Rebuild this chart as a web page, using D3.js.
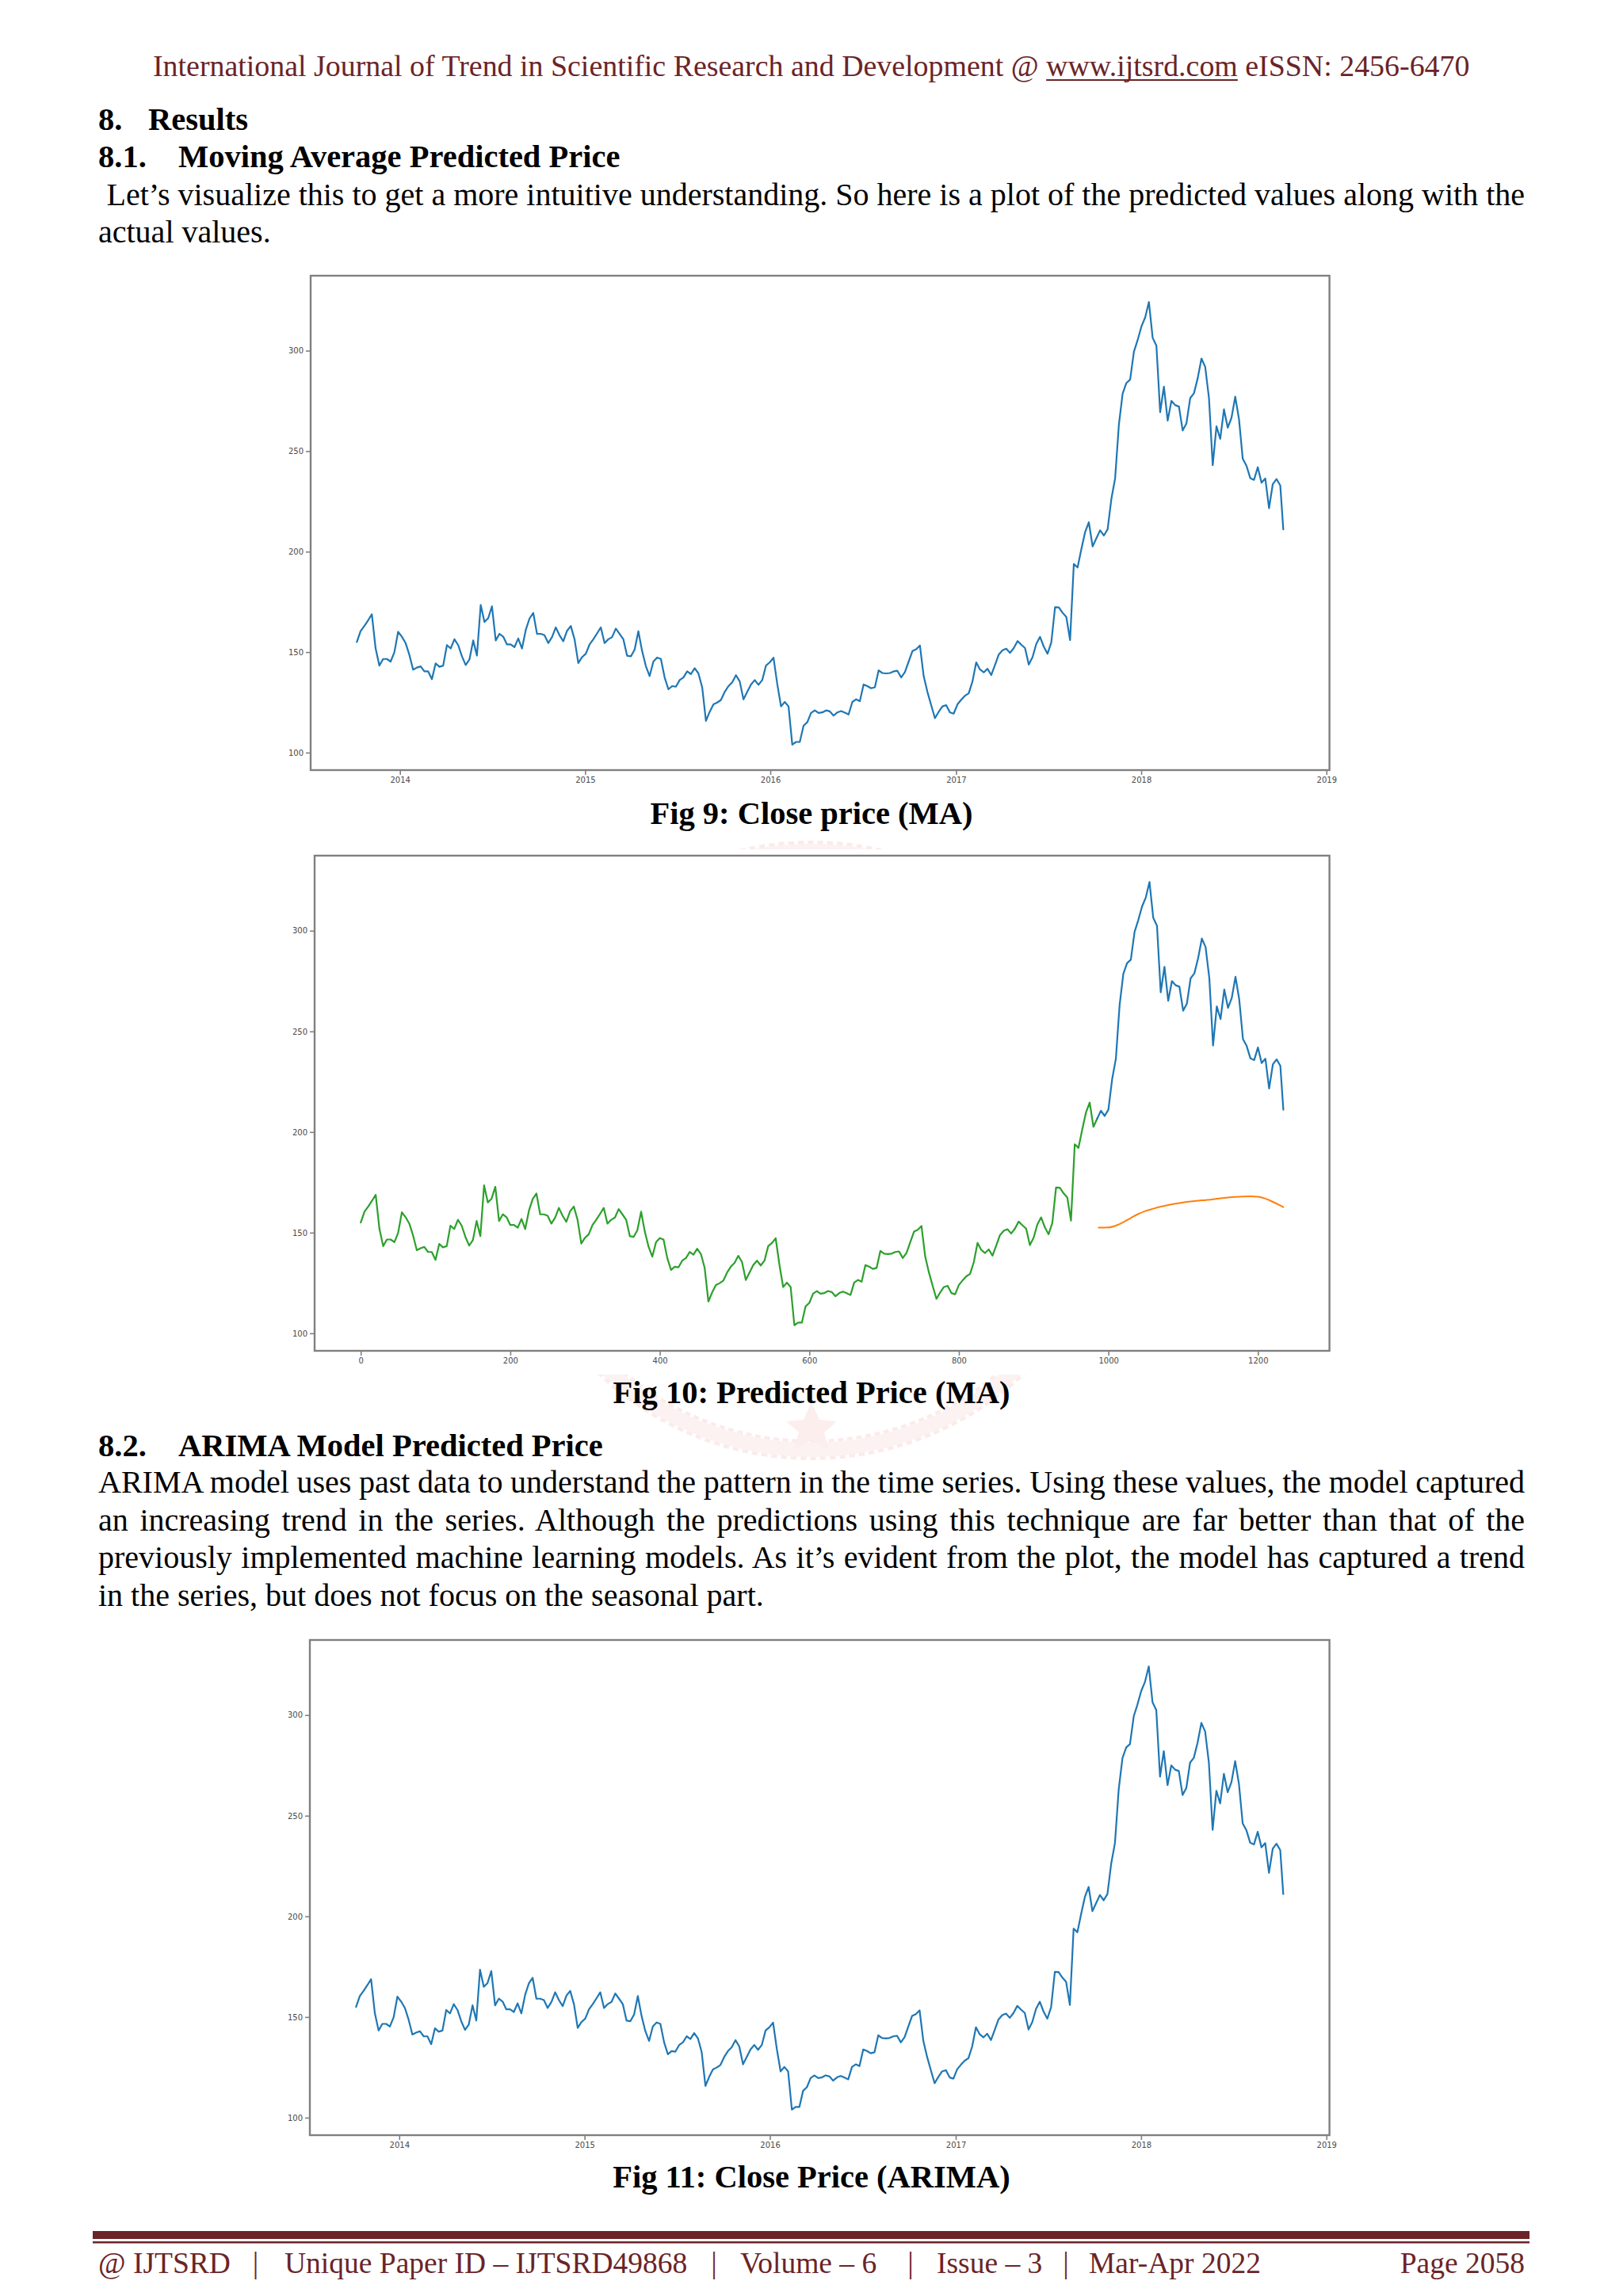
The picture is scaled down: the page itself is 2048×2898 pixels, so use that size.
<!DOCTYPE html>
<html>
<head>
<meta charset="utf-8">
<script src="https://cdn.jsdelivr.net/npm/d3@7"></script>
<style>
html,body{margin:0;padding:0;background:#fff;}
svg{display:block;}
</style>
</head>
<body>
<svg id="page" width="2048" height="2898"></svg>
<script>
// ---------------- DATA ----------------
// Close price sampled every 5 trading days, training part (day 0 .. 985)
const trainClose = [
 155.0,160.4,163.0,165.8,168.8,151.9,143.3,146.6,146.6,145.3,149.9,160.1,157.7,154.5,148.6,141.3,142.3,142.9,140.4,140.4,
 136.5,144.4,142.7,143.3,153.5,151.8,156.4,153.5,147.9,143.6,146.3,155.8,148.3,173.5,165.0,166.9,172.8,155.8,159.1,157.7,
 153.8,153.8,152.5,156.8,151.8,161.0,166.7,169.5,159.1,159.1,158.4,154.5,157.5,162.3,158.4,155.4,160.6,163.0,156.4,144.6,
 147.5,149.2,153.8,156.4,159.3,162.3,154.5,156.4,157.5,161.7,159.1,156.4,148.2,147.9,151.2,160.4,150.5,143.0,138.1,145.3,
 147.3,146.6,137.4,131.5,133.1,
 132.8,136.1,137.4,140.4,139.1,142.0,139.4,132.5,115.8,120.3,124.0,124.9,126.2,130.2,133.1,135.0,138.5,135.4,126.5,130.2,
 133.9,136.1,133.7,136.1,143.3,144.9,147.2,134.1,123.0,125.2,123.0,104.0,105.3,105.3,113.4,115.1,119.7,121.0,119.7,120.0,
 121.0,120.5,118.4,120.0,120.7,119.9,119.0,125.2,126.5,125.6,133.9,133.1,132.0,132.5,140.9,139.6,139.4,139.6,140.4,140.7,
 137.4,140.0,145.3,150.5,151.4,153.3,138.1,130.2,123.6,117.1,120.3,123.0,123.6,120.0,119.4,124.0,126.3,128.3,129.5,135.4,
 144.9,141.4,
 139.9,141.7,138.6,143.6,148.8,150.9,151.7,149.6,152.0,155.5,153.7,152.0,143.8,147.5,154.1,157.6,152.7,149.2,154.8,172.4,
 172.3,169.6,167.5,156.0,193.9,192.1,201.2,209.7,214.6,202.6,206.6
];
// Close price, validation part (day 990 .. 1234)
const validClose = [
 210.6,208.0,211.1,226.2,236.4,263.1,278.6,283.9,285.6,299.4,305.3,312.0,316.5,324.2,306.4,302.5,269.4,282.1,265.2,275.0,
 272.9,272.2,260.3,263.8,276.4,278.8,286.3,296.1,291.9,276.4,243.0,262.4,256.1,270.8,261.7,266.6,277.1,265.9,246.2,242.7,
 236.6,235.7,242.0,234.3,236.4,221.6,233.6,236.1,232.9,211.1
];
const sampleStep = 5;
const lastDay = 1234;
const firstDate = "2013-10-08";
const lastDate = "2018-10-08";

// Moving-average predictions (orange)
const predDays  = [987,1000,1010,1020,1030,1040,1050,1060,1070,1080,1090,1100,1110,1120,1130,1140,1150,1160,1170,1180,1190,1200,1210,1220,1230,1234];
const predClose = [152.5,152.6,153.5,155.2,157.3,159.3,160.8,161.9,162.9,163.7,164.4,165.0,165.5,165.9,166.2,166.6,167.1,167.5,167.8,168.0,168.1,167.9,166.9,165.3,163.5,162.7];

// Axes
const priceTicks = [100,150,200,250,300];
const priceLimits = [91.3, 337.3];
const yearTicks = ["2014","2015","2016","2017","2018","2019"];
const dateLimits = ["2013-07-09","2019-01-07"];
const dayTicks = [0,200,400,600,800,1000,1200];
const dayLimits = [-61.7, 1295.7];

// Text
const headerText = "International Journal of Trend in Scientific Research and Development @ www.ijtsrd.com eISSN: 2456-6470";
const headerUrl = "www.ijtsrd.com";
const para1 = [" Let\u2019s visualize this to get a more intuitive understanding. So here is a plot of the predicted values along with the", "actual values."];
const para2 = [
 "ARIMA model uses past data to understand the pattern in the time series. Using these values, the model captured",
 "an increasing trend in the series. Although the predictions using this technique are far better than that of the",
 "previously implemented machine learning models. As it\u2019s evident from the plot, the model has captured a trend",
 "in the series, but does not focus on the seasonal part."
];
const captions = ["Fig 9: Close price (MA)", "Fig 10: Predicted Price (MA)", "Fig 11: Close Price (ARIMA)"];
const footerParts = ["@ IJTSRD", "Unique Paper ID \u2013 IJTSRD49868", "Volume \u2013 6", "Issue \u2013 3", "Mar-Apr 2022"];
const footerPage = "Page 2058";

// ---------------- DRAWING ----------------
const MAROON = "#6b2427";
const SERIF = "'Liberation Serif','Times New Roman',serif";
const svg = d3.select("#page");
svg.append("rect").attr("width",2048).attr("height",2898).attr("fill","#fff");

// very faint watermark ring (mostly hidden behind figures)
const wm = svg.append("g").attr("opacity",0.28);
wm.append("circle").attr("cx",1024).attr("cy",1452).attr("r",378)
  .attr("fill","none").attr("stroke","#f2b9b6").attr("stroke-width",26).attr("stroke-dasharray","7 5");
wm.append("circle").attr("cx",1024).attr("cy",1452).attr("r",378)
  .attr("fill","none").attr("stroke","#f7d3d1").attr("stroke-width",18);
wm.append("path").attr("d","M1024,1770 L1034,1792 L1056,1794 L1040,1808 L1046,1830 L1024,1818 L1002,1830 L1008,1808 L992,1794 L1014,1792 Z")
  .attr("fill","#f4c4c2");

function put(str, x, base, o) {
  o = Object.assign({size:40, weight:"normal", fill:"#000", anchor:"start", justifyTo:null}, o||{});
  const t = svg.append("text").attr("x",x).attr("y",base)
    .attr("font-family",SERIF).attr("font-size",o.size).attr("font-weight",o.weight)
    .attr("fill",o.fill).attr("text-anchor",o.anchor).text(str);
  if (o.justifyTo) {
    const w = t.node().getComputedTextLength();
    const n = (str.match(/ /g)||[]).length;
    if (n) t.style("word-spacing", ((o.justifyTo - x - w)/n) + "px");
  }
  return t;
}

// header
{
  const t = put(headerText, 193, 95.5, {size:36, fill:MAROON});
  const w = t.node().getComputedTextLength();
  const fs = 36*1662/w;
  t.attr("font-size", fs);
  const k = headerText.indexOf(headerUrl);
  const a = t.node().getSubStringLength(0,k);
  const b = t.node().getSubStringLength(k, headerUrl.length);
  svg.append("line").attr("x1",193+a).attr("x2",193+a+b).attr("y1",101).attr("y2",101)
    .attr("stroke",MAROON).attr("stroke-width",2);
}

// section headings + paragraph 1
put("8.", 124, 164, {weight:"bold", size:40.5});
put("Results", 187, 164, {weight:"bold", size:40.5});
put("8.1.", 124, 210.8, {weight:"bold", size:40.5});
put("Moving Average Predicted Price", 225, 210.8, {weight:"bold", size:40.5});
put(para1[0].trim(), 134.5, 258.5, {justifyTo:1924});
put(para1[1], 124, 305.5);

// captions
put(captions[0], 1024, 1039.5, {weight:"bold", size:40.5, anchor:"middle"});
put(captions[1], 1024, 1771, {weight:"bold", size:40.5, anchor:"middle"});
put(captions[2], 1024, 2760.5, {weight:"bold", size:40.5, anchor:"middle"});

// section 8.2
put("8.2.", 124, 1838, {weight:"bold", size:40.5});
put("ARIMA Model Predicted Price", 225, 1838, {weight:"bold", size:40.5});
const p2base = [1884, 1931.5, 1979, 2027];
para2.forEach((s,i) => put(s, 124, p2base[i], {justifyTo: i < 3 ? 1924 : null}));

// footer
svg.append("rect").attr("x",117).attr("y",2816).attr("width",1813).attr("height",10).attr("fill",MAROON);
svg.append("rect").attr("x",117).attr("y",2829).attr("width",1813).attr("height",2.5).attr("fill",MAROON);
const footX = [124, 359, 934, 1182, 1374];
const sepX = [322.6, 901, 1149, 1345];
footerParts.forEach((s,i) => put(s, footX[i], 2869, {size:37.5, fill:MAROON}));
sepX.forEach(x => put("|", x, 2869, {size:37.5, fill:MAROON, anchor:"middle"}));
put(footerPage, 1924, 2869, {size:37.5, fill:MAROON, anchor:"end"});

// ---------------- CHARTS ----------------
const parseDate = d3.timeParse("%Y-%m-%d");
const parseYear = d3.timeParse("%Y");
const dayToDate = d3.scaleLinear().domain([0,lastDay]).range([parseDate(firstDate), parseDate(lastDate)]);
const allClose = trainClose.concat(validClose);
const points = allClose.map((v,i) => ({day: Math.min(i*sampleStep, lastDay), v}));
const trainPts = points.slice(0, trainClose.length);
const validPts = points.slice(trainClose.length - 1);
const predPts = predDays.map((d,i) => ({day:d, v:predClose[i]}));

const BLUE = "#1f77b4", GREEN = "#2ca02c", ORANGE = "#ff7f0e";
const FRAME = "#808080";

function chart(box, xScaleFn, xTickVals, xFmt, seriesList) {
  const g = svg.append("g");
  g.append("rect").attr("x",box.x0-45).attr("y",box.y0-8).attr("width",box.x1-box.x0+65)
    .attr("height",box.y1-box.y0+38).attr("fill","#fff");
  const x = xScaleFn.range([box.x0, box.x1]);
  const y = d3.scaleLinear().domain(priceLimits).range([box.y1, box.y0]);
  seriesList.forEach(s => {
    const line = d3.line().x(d => x(s.xv(d))).y(d => y(d.v));
    if (s.curve) line.curve(s.curve);
    g.append("path").datum(s.data).attr("d", line).attr("fill","none")
      .attr("stroke", s.color).attr("stroke-width", s.width || 2.2)
      .attr("stroke-linejoin","round").attr("stroke-linecap","round");
  });
  const ya = g.append("g").attr("transform",`translate(${box.x0},0)`)
    .call(d3.axisLeft(y).tickValues(priceTicks).tickSize(6).tickPadding(3));
  const xa = g.append("g").attr("transform",`translate(0,${box.y1})`)
    .call(d3.axisBottom(x).tickValues(xTickVals).tickFormat(xFmt).tickSize(6).tickPadding(3));
  [ya, xa].forEach(a => {
    a.select(".domain").remove();
    a.selectAll(".tick line").attr("stroke",FRAME).attr("stroke-width",1.6);
    a.selectAll(".tick text").attr("fill","#4a4a4a").attr("font-size",10)
      .attr("font-family","'DejaVu Sans',sans-serif");
  });
  g.append("rect").attr("x",box.x0).attr("y",box.y0).attr("width",box.x1-box.x0)
    .attr("height",box.y1-box.y0).attr("fill","none").attr("stroke",FRAME).attr("stroke-width",2.4);
}

const timeX = () => d3.scaleTime().domain(dateLimits.map(parseDate));
const yearVals = yearTicks.map(parseYear);
const yearFmt = d3.timeFormat("%Y");
const dateX = d => dayToDate(d.day);

// Fig 9
chart({x0:392, y0:348, x1:1677.6, y1:972}, timeX(), yearVals, yearFmt,
  [{data: points, color: BLUE, xv: dateX}]);

// Fig 10
chart({x0:397, y0:1080, x1:1677.6, y1:1705}, d3.scaleLinear().domain(dayLimits), dayTicks, d3.format("d"),
  [{data: trainPts, color: GREEN, xv: d => d.day},
   {data: validPts, color: BLUE, xv: d => d.day},
   {data: predPts, color: ORANGE, xv: d => d.day, width: 2, curve: d3.curveMonotoneX}]);

// Fig 11
chart({x0:391, y0:2070, x1:1677.6, y1:2695}, timeX(), yearVals, yearFmt,
  [{data: points, color: BLUE, xv: dateX}]);
</script>
</body>
</html>
